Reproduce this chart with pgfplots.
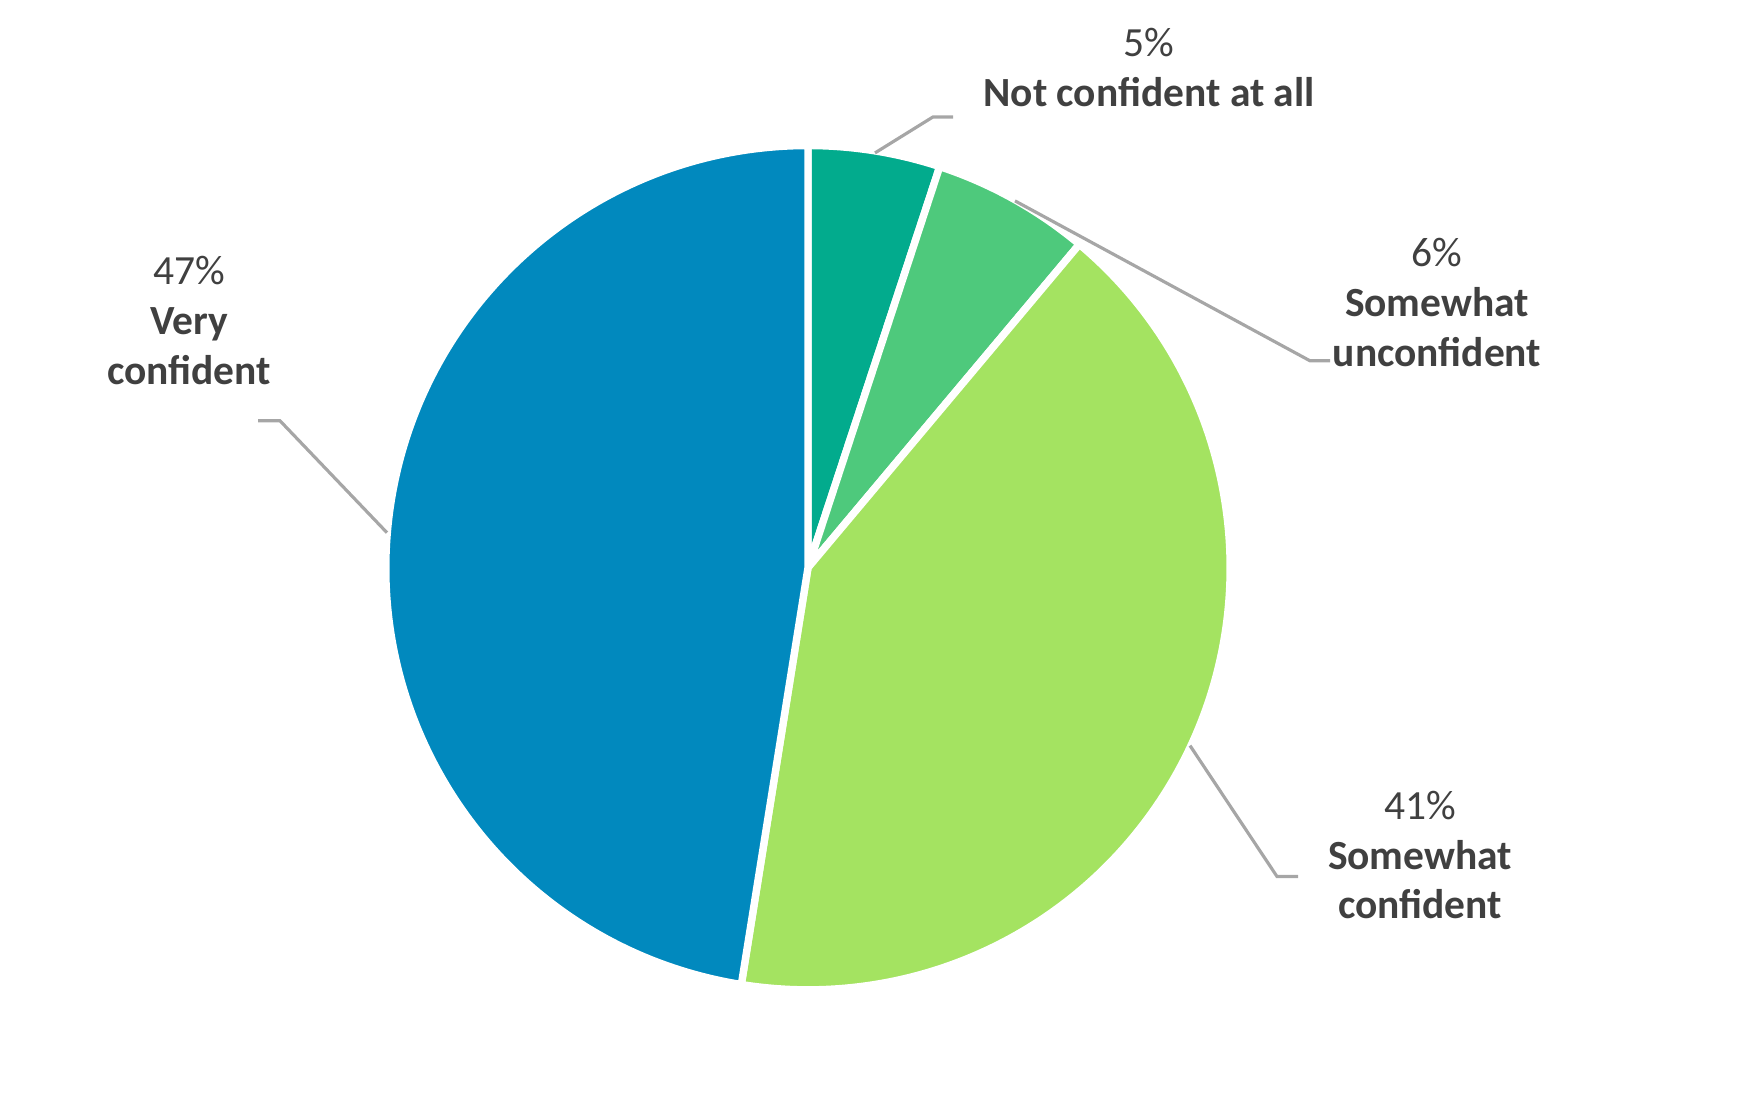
\documentclass[border=0pt]{standalone}
\usepackage{pgfplots}
\usepackage{pgfplotstable}
\pgfplotsset{compat=1.18}
\usepackage{fontspec}
\setmainfont{Carlito}
\definecolor{cA}{RGB}{2,171,141}
\definecolor{cB}{RGB}{78,201,124}
\definecolor{cC}{RGB}{164,227,97}
\definecolor{cD}{RGB}{1,137,190}
\definecolor{txt}{RGB}{64,64,64}
\definecolor{lead}{RGB}{166,166,166}
\pgfplotstableread{
label value
NotConfident 5
SomewhatUnconfident 6
SomewhatConfident 41
VeryConfident 47
}\piedata
\begin{document}
\begin{tikzpicture}
\pgfplotstablegetelem{0}{value}\of\piedata \let\vA\pgfplotsretval
\pgfplotstablegetelem{1}{value}\of\piedata \let\vB\pgfplotsretval
\pgfplotstablegetelem{2}{value}\of\piedata \let\vC\pgfplotsretval
\pgfplotstablegetelem{3}{value}\of\piedata \let\vD\pgfplotsretval
\pgfmathsetmacro\tot{\vA+\vB+\vC+\vD}
\pgfmathsetmacro\dg{360/\tot}
\pgfmathsetmacro\aA{90-\dg*\vA}
\pgfmathsetmacro\aB{\aA-\dg*\vB}
\pgfmathsetmacro\aC{\aB-\dg*\vC}
\pgfmathsetmacro\aD{\aC-\dg*\vD}
\def\R{120.1pt}
\begin{axis}[
  scale only axis, width=495.31pt, height=315.9pt,
  xmin=0, xmax=1741, ymin=0, ymax=1111, y dir=reverse,
  hide axis, clip=false,
]
\addplot[draw=none, forget plot] coordinates {(0,0) (1741,1111)};
\begin{scope}[draw=white, line width=2.1pt, line join=miter]
\filldraw[fill=cA] (axis cs:808,568) -- ++(90:\R) arc[start angle=90, end angle=\aA, radius=\R] -- cycle;
\filldraw[fill=cB] (axis cs:808,568) -- ++(\aA:\R) arc[start angle=\aA, end angle=\aB, radius=\R] -- cycle;
\filldraw[fill=cC] (axis cs:808,568) -- ++(\aB:\R) arc[start angle=\aB, end angle=\aC, radius=\R] -- cycle;
\filldraw[fill=cD] (axis cs:808,568) -- ++(\aC:\R) arc[start angle=\aC, end angle=\aD, radius=\R] -- cycle;
\end{scope}
\begin{scope}[lead, line width=0.9pt]
\draw (axis cs:875,153) -- (axis cs:933,117) -- (axis cs:953,117);
\draw (axis cs:1015,201) -- (axis cs:1310,361) -- (axis cs:1330,361);
\draw (axis cs:1190,746) -- (axis cs:1277,877) -- (axis cs:1298,877);
\draw (axis cs:387,533) -- (axis cs:280,421) -- (axis cs:258,421);
\end{scope}
\begin{scope}[every node/.style={anchor=base, text=txt, inner sep=0pt, font=\fontsize{11.8}{14}\selectfont}]
\node at (axis cs:1149,57) {5\%};
\node at (axis cs:1149,107) {\bfseries Not confident at all};
\node at (axis cs:1437,267) {6\%};
\node at (axis cs:1437,317) {\bfseries Somewhat};
\node at (axis cs:1437,367) {\bfseries unconfident};
\node at (axis cs:1420,820) {41\%};
\node at (axis cs:1420,870) {\bfseries Somewhat};
\node at (axis cs:1420,919) {\bfseries confident};
\node at (axis cs:189,285) {47\%};
\node at (axis cs:189,335) {\bfseries Very};
\node at (axis cs:189,385) {\bfseries confident};
\end{scope}
\end{axis}
\end{tikzpicture}
\end{document}
